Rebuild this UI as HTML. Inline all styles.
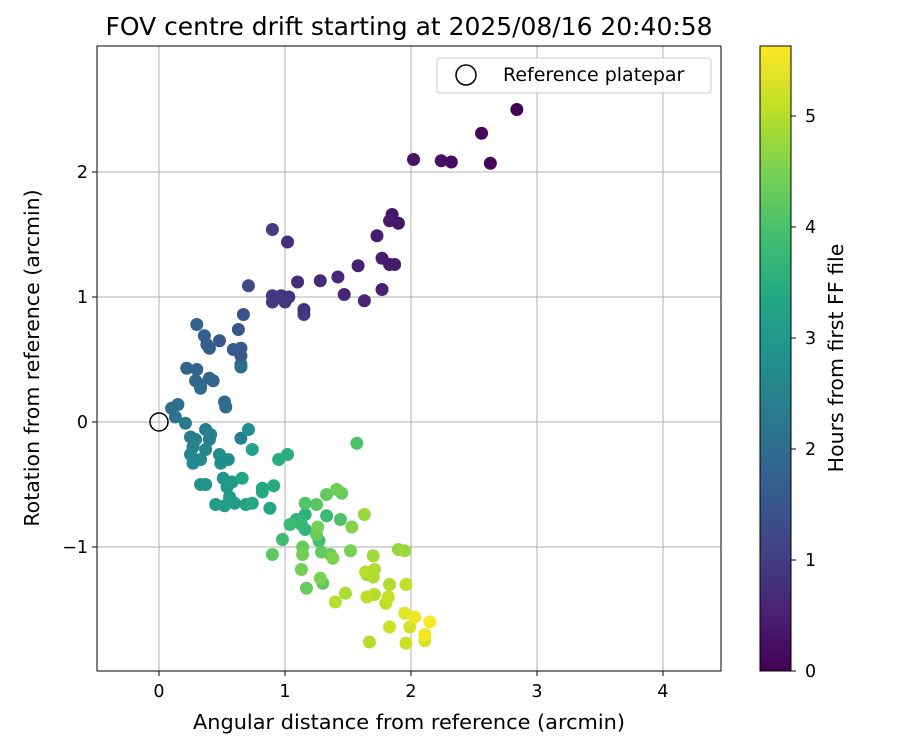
<!DOCTYPE html>
<html><head><meta charset="utf-8"><style>
body{margin:0;background:#fff}
svg text{font-family:"DejaVu Sans","Liberation Sans",sans-serif;fill:#000}
</style></head><body>
<svg id="chart" width="900" height="750" xmlns="http://www.w3.org/2000/svg">
<rect width="900" height="750" fill="#fff"/>
<g id="grid"></g>
<g id="points"></g>
<circle cx="159" cy="422" r="9" fill="none" stroke="#000" stroke-width="1.5"/>
<rect x="97" y="46" width="624" height="625" fill="none" stroke="#000" stroke-width="1"/>
<g id="ticks"></g>
<text x="409" y="35" font-size="24.8" text-anchor="middle" textLength="607" lengthAdjust="spacingAndGlyphs">FOV centre drift starting at 2025/08/16 20:40:58</text>
<text x="409" y="729" font-size="20.5" text-anchor="middle" textLength="432" lengthAdjust="spacingAndGlyphs">Angular distance from reference (arcmin)</text>
<text transform="translate(39,358) rotate(-90)" font-size="20.5" text-anchor="middle">Rotation from reference (arcmin)</text>
<g>
<rect x="437" y="58" width="274" height="35" rx="3" fill="#fff" fill-opacity="0.8" stroke="#ccc"/>
<circle cx="466" cy="75" r="10" fill="none" stroke="#000" stroke-width="1.5"/>
<text x="503" y="81" font-size="19">Reference platepar</text>
</g>
<defs><linearGradient id="vir" x1="0" y1="1" x2="0" y2="0"></linearGradient></defs>
<rect x="760" y="46" width="31" height="625" fill="url(#vir)" stroke="#000" stroke-width="1"/>
<g id="cbticks"></g>
<text transform="translate(843,358) rotate(-90)" font-size="20.5" text-anchor="middle">Hours from first FF file</text>
</svg>
<script>
const xs=[2.84,2.56,2.63,2.32,2.24,2.02,1.85,1.83,1.90,1.73,1.77,1.83,1.87,1.77,1.63,1.47,1.58,1.42,1.28,1.15,1.15,1.10,1.03,1.00,0.97,0.90,0.90,0.90,1.02,0.71,
0.67,0.63,0.65,0.59,0.65,0.65,0.65,0.48,0.30,0.36,0.38,0.40,0.22,0.30,0.29,0.33,0.40,0.43,0.33,0.52,0.53,0.10,0.15,0.13,0.21,
0.25,0.37,0.41,0.29,0.27,0.40,0.37,0.25,0.33,0.27,0.48,0.49,0.55,0.65,0.71,0.74,0.33,0.37,0.51,0.54,0.58,0.66,0.56,0.45,0.52,0.60,0.69,0.74,0.82,0.88,0.91,0.95,1.02,0.82,
1.57,1.09,1.13,1.04,0.98,0.90,1.16,1.25,1.33,1.41,1.45,1.44,1.33,1.16,1.16,1.25,1.27,1.14,1.14,1.13,1.17,1.28,1.30,1.38,1.52,1.53,1.29,1.36,1.26,
1.70,1.71,1.64,1.70,1.65,1.71,1.83,1.96,1.90,1.95,1.80,1.82,1.83,1.67,1.95,2.03,2.15,2.11,2.11,1.96,1.99,1.40,1.48,1.65,1.63];
const ys=[2.50,2.31,2.07,2.08,2.09,2.10,1.66,1.61,1.59,1.49,1.31,1.26,1.26,1.06,0.97,1.02,1.25,1.16,1.13,0.90,0.86,1.12,1.00,0.96,1.01,0.96,1.01,1.54,1.44,1.09,
0.86,0.74,0.59,0.58,0.53,0.46,0.44,0.65,0.78,0.69,0.62,0.59,0.43,0.42,0.33,0.30,0.35,0.33,0.27,0.16,0.12,0.11,0.14,0.04,-0.01,
-0.12,-0.06,-0.10,-0.14,-0.20,-0.14,-0.22,-0.26,-0.30,-0.33,-0.26,-0.33,-0.30,-0.13,-0.06,-0.22,-0.50,-0.50,-0.45,-0.52,-0.48,-0.45,-0.60,-0.66,-0.67,-0.65,-0.66,-0.65,-0.53,-0.69,-0.51,-0.30,-0.26,-0.56,
-0.17,-0.78,-0.82,-0.82,-0.94,-1.06,-0.65,-0.66,-0.58,-0.54,-0.57,-0.78,-0.75,-0.74,-0.86,-0.90,-0.95,-1.00,-1.06,-1.18,-1.33,-1.25,-1.29,-1.09,-1.03,-0.84,-1.04,-1.06,-0.84,
-1.07,-1.18,-1.20,-1.24,-1.40,-1.38,-1.30,-1.30,-1.02,-1.03,-1.45,-1.40,-1.64,-1.76,-1.53,-1.56,-1.60,-1.70,-1.75,-1.77,-1.64,-1.44,-1.37,-1.22,-0.74];
const hours=[0.02,0.08,0.12,0.18,0.22,0.28,0.35,0.38,0.33,0.42,0.45,0.40,0.43,0.50,0.55,0.60,0.52,0.62,0.68,0.85,0.88,0.72,0.80,0.90,0.84,0.95,0.92,0.98,0.78,1.25,
1.40,1.55,1.50,1.58,1.45,1.62,2.00,1.48,1.75,1.70,1.72,1.68,1.85,1.80,1.88,1.90,1.82,1.84,1.95,1.92,1.98,2.05,2.08,2.12,2.30,
2.35,2.30,2.40,2.45,2.50,2.42,2.55,2.60,2.62,2.65,2.70,2.72,2.75,2.40,2.80,3.25,2.85,2.88,2.90,2.95,3.00,3.30,3.05,3.08,3.10,3.12,3.20,3.40,3.35,3.30,3.45,3.50,3.55,3.38,
4.05,3.70,3.75,3.80,3.85,4.20,4.10,4.15,4.25,4.40,4.30,4.05,3.80,3.60,3.70,4.35,3.90,4.30,4.40,4.45,4.30,4.50,4.20,4.55,4.45,4.60,4.25,4.35,4.45,
4.85,4.95,5.00,4.90,5.05,5.00,4.95,5.10,4.75,4.80,5.05,5.15,5.20,5.00,5.40,5.50,5.60,5.55,5.30,5.20,5.25,5.00,4.90,4.80,4.75];
const xTicks=[0,1,2,3,4], yTicks=[-1,0,1,2], yTickLabels=["\u22121","0","1","2"], cTicks=[0,1,2,3,4,5];
const X=v=>159+v*126, Y=v=>422-v*125, C=v=>671-v*111;
const V=[[0,"#440154"],[0.1,"#482475"],[0.2,"#414487"],[0.3,"#355f8d"],[0.4,"#2a788e"],[0.5,"#21918c"],[0.6,"#22a884"],[0.7,"#44bf70"],[0.8,"#7ad151"],[0.9,"#bddf26"],[1,"#fde725"]];
function vir(t){t=Math.max(0,Math.min(1,t));for(let i=1;i<V.length;i++){if(t<=V[i][0]){const a=V[i-1],b=V[i],f=(t-a[0])/(b[0]-a[0]);const p=s=>[1,3,5].map(k=>parseInt(s.substr(k,2),16));const A=p(a[1]),B=p(b[1]);return "rgb("+A.map((c,j)=>Math.round(c+(B[j]-c)*f)).join(",")+")";}}return V[V.length-1][1];}
const NS="http://www.w3.org/2000/svg", HMAX=5.63;
function el(t,a,p){const e=document.createElementNS(NS,t);for(const k in a)e.setAttribute(k,a[k]);p.appendChild(e);return e;}
const grid=document.getElementById('grid'),ticks=document.getElementById('ticks');
xTicks.forEach(v=>{const g=el('line',{x1:X(v),x2:X(v),y1:46,y2:671,stroke:'#b0b0b0','stroke-width':1},grid);

el('line',{x1:X(v),x2:X(v),y1:671,y2:676,stroke:'#000'},ticks);
const t=el('text',{x:X(v),y:697,'font-size':17.5,'text-anchor':'middle'},ticks);t.textContent=v;
});
yTicks.forEach((v,i)=>{const g=el('line',{x1:97,x2:721,y1:Y(v),y2:Y(v),stroke:'#b0b0b0','stroke-width':1},grid);

el('line',{x1:92,x2:97,y1:Y(v),y2:Y(v),stroke:'#000'},ticks);
const t=el('text',{x:88,y:Y(v)+6,'font-size':17.5,'text-anchor':'end'},ticks);t.textContent=yTickLabels[i];
});
const idx=hours.map((h,i)=>i).sort((a,b)=>hours[a]-hours[b]);
const pts=document.getElementById('points');
idx.forEach(i=>{const c=el('circle',{cx:X(xs[i]),cy:Y(ys[i]),r:6.5,fill:vir(hours[i]/HMAX)},pts);
});
const grad=document.getElementById('vir');
V.forEach(s=>el('stop',{offset:s[0],'stop-color':s[1]},grad));
const cb=document.getElementById('cbticks');
cTicks.forEach(v=>{el('line',{x1:791,x2:796,y1:C(v),y2:C(v),stroke:'#000'},cb);
const t=el('text',{x:805,y:C(v)+6,'font-size':17.5},cb);t.textContent=v;
});
</script>
</body></html>
